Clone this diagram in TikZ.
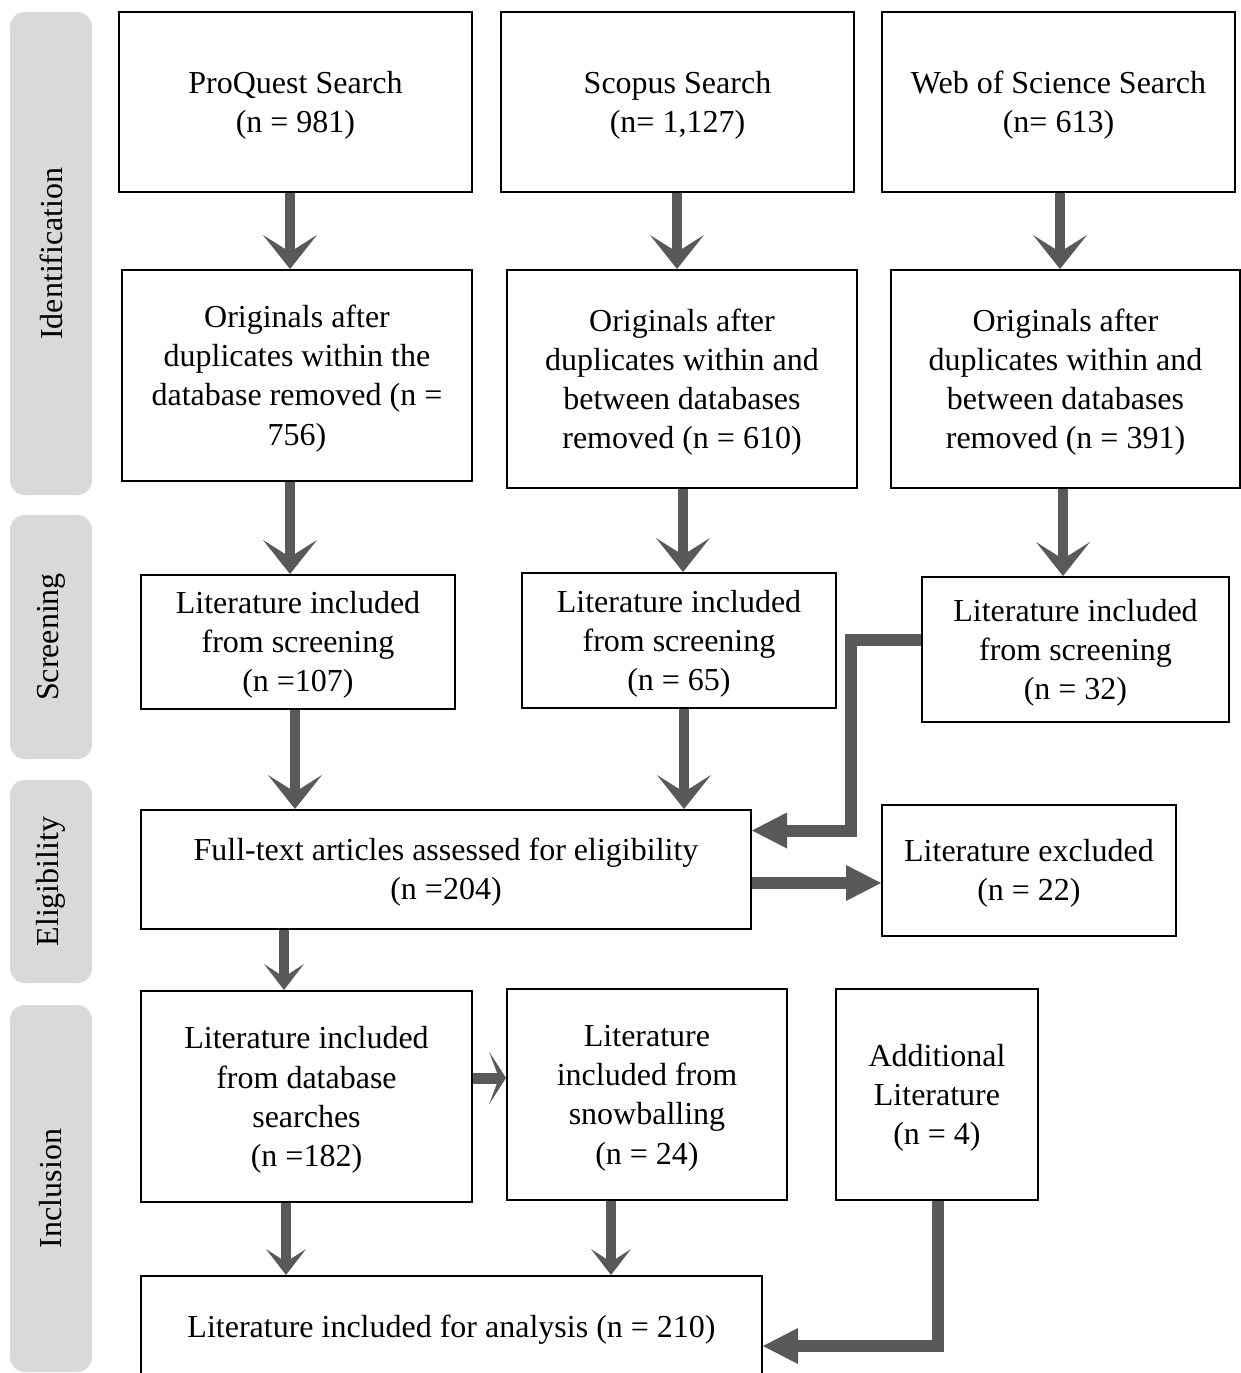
\documentclass[tikz,border=0pt]{standalone}
\usepackage{fontspec}
\setmainfont{Liberation Serif}
\usetikzlibrary{arrows.meta}
\definecolor{arrgray}{HTML}{595959}
\definecolor{barfill}{HTML}{D9D9D9}
\begin{document}
\begin{tikzpicture}[x=0.5pt,y=-0.5pt,
  box/.style={draw=black, line width=1pt, inner sep=0pt},
  txt/.style={inner sep=0pt, align=center, font=\fontsize{16}{19.6}\selectfont, text=black},
  bar/.style={fill=barfill, rounded corners=7.5pt, inner sep=0pt, rotate=90, font=\fontsize{16}{19.6}\selectfont, text=black},
  darr/.style={draw=arrgray, line width=5pt, -{Stealth[length=17pt,width=27pt,inset=8.5pt,line width=0pt]}},
  sarr/.style={draw=arrgray, line width=5pt, -{Stealth[length=13pt,width=20pt,inset=6.5pt,line width=0pt]}},
  tarr/.style={draw=arrgray, line width=6pt, line join=miter, -{Triangle[length=17.5pt,width=18pt,line width=0pt]}},
  harr/.style={draw=arrgray, line width=5.5pt, -{Stealth[length=8.5pt,width=26.5pt,inset=5pt,line width=0pt]}},
]
\clip (0,0) rectangle (1241,1373);
\fill[white] (0,0) rectangle (1241,1373);

% side bars
\node[bar, minimum width=241.5pt, minimum height=41pt] (sid) at (51,253.5) {Identification};
\node[bar, minimum width=122pt, minimum height=41pt] (ssc) at (51,637) {Screening};
\node[bar, minimum width=101.5pt, minimum height=41pt] (sel) at (51,881.5) {Eligibility};
\node[bar, minimum width=183.5pt, minimum height=41pt] (sin) at (51,1188.5) {Inclusion};

% row 1
\node[box, minimum width=176.5pt, minimum height=90pt] (P1) at (295.5,102) {};
\node[box, minimum width=176.5pt, minimum height=90pt] (P2) at (677.5,102) {};
\node[box, minimum width=176.5pt, minimum height=90pt] (P3) at (1058.5,102) {};
\node[txt] (P1t) at ([yshift=-1.5pt]P1.center) {ProQuest Search\\(n = 981)};
\node[txt] (P2t) at ([yshift=-1.5pt]P2.center) {Scopus Search\\(n= 1,127)};
\node[txt] (P3t) at ([yshift=-1.5pt]P3.center) {Web of Science Search\\(n= 613)};

% row 2
\node[box, minimum width=175pt, minimum height=105.5pt] (B1) at (297,375.5) {};
\node[box, minimum width=175pt, minimum height=109pt] (B2) at (682,379) {};
\node[box, minimum width=174.5pt, minimum height=109pt] (B3) at (1065.5,379) {};
\node[txt] (B1t) at ([yshift=-1.5pt]B1.center) {Originals after\\duplicates within the\\database removed (n =\\756)};
\node[txt] (B2t) at ([yshift=-1.5pt]B2.center) {Originals after\\duplicates within and\\between databases\\removed (n = 610)};
\node[txt] (B3t) at ([yshift=-1.5pt]B3.center) {Originals after\\duplicates within and\\between databases\\removed (n = 391)};

% row 3
\node[box, minimum width=157pt, minimum height=67pt] (C1) at (298,642) {};
\node[box, minimum width=157pt, minimum height=67.5pt] (C2) at (679,640.5) {};
\node[box, minimum width=153.5pt, minimum height=72.5pt] (C3) at (1075.5,649.5) {};
\node[txt] (C1t) at ([yshift=-1.5pt]C1.center) {Literature included\\from screening\\(n =107)};
\node[txt] (C2t) at ([yshift=-1.5pt]C2.center) {Literature included\\from screening\\(n = 65)};
\node[txt] (C3t) at ([yshift=-1.5pt]C3.center) {Literature included\\from screening\\(n = 32)};

% eligibility
\node[box, minimum width=305pt, minimum height=59.5pt] (D) at (446,869.5) {};
\node[box, minimum width=147pt, minimum height=65.5pt] (E) at (1029,870.5) {};
\node[txt] (Dt) at ([yshift=-1.5pt]D.center) {Full-text articles assessed for eligibility\\(n =204)};
\node[txt] (Et) at ([yshift=-1.5pt]E.center) {Literature excluded\\(n = 22)};

% inclusion
\node[box, minimum width=165.5pt, minimum height=105.5pt] (F1) at (306.5,1096.5) {};
\node[box, minimum width=140pt, minimum height=105.5pt] (F2) at (647,1094.5) {};
\node[box, minimum width=101pt, minimum height=105.5pt] (F3) at (937,1094.5) {};
\node[box, minimum width=310.5pt, minimum height=52pt] (G) at (451.5,1328) {};
\node[txt] (F1t) at ([yshift=-1.75pt]F1.center) {Literature included\\from database\\searches\\(n =182)};
\node[txt] (F2t) at ([yshift=-1.75pt]F2.center) {Literature\\included from\\snowballing\\(n = 24)};
\node[txt] (F3t) at ([yshift=-1.5pt]F3.center) {Additional\\Literature\\(n = 4)};
\node[txt] (Gt) at ([yshift=-1pt]G.center) {Literature included for analysis (n = 210)};

% helper coordinates
\coordinate (x290) at (290,0);
\coordinate (x677) at (677,0);
\coordinate (x1060) at (1060,0);
\coordinate (x683) at (683,0);
\coordinate (x1063) at (1063,0);
\coordinate (x295) at (295,0);
\coordinate (x684) at (684,0);
\coordinate (x284) at (284,0);
\coordinate (x286) at (286,0);
\coordinate (x611) at (611,0);
\coordinate (y640) at (0,640);
\coordinate (bend1) at (851,830.5);
\coordinate (y883) at (0,883);
\coordinate (y1078) at (0,1078);
\coordinate (bend2) at (938,1346);

% arrows
\draw[darr] (P1.south -| x290) -- (B1.north -| x290);
\draw[darr] (P2.south -| x677) -- (B2.north -| x677);
\draw[darr] (P3.south -| x1060) -- (B3.north -| x1060);
\draw[darr] (B1.south -| x290) -- (C1.north -| x290);
\draw[darr] (B2.south -| x683) -- (C2.north -| x683);
\draw[darr] (B3.south -| x1063) -- (C3.north -| x1063);
\draw[darr] (C1.south -| x295) -- (D.north -| x295);
\draw[darr] (C2.south -| x684) -- (D.north -| x684);
\draw[tarr] (C3.west |- y640) -| (bend1) -- (D.east |- bend1);
\draw[tarr] (D.east |- y883) -- (E.west |- y883);
\draw[sarr] (D.south -| x284) -- (F1.north -| x284);
\draw[harr] (F1.east |- y1078) -- (F2.west |- y1078);
\draw[sarr] (F1.south -| x286) -- (G.north -| x286);
\draw[sarr] (F2.south -| x611) -- (G.north -| x611);
\draw[tarr] (F3.south -| bend2) |- (G.east |- bend2);
\end{tikzpicture}
\end{document}
